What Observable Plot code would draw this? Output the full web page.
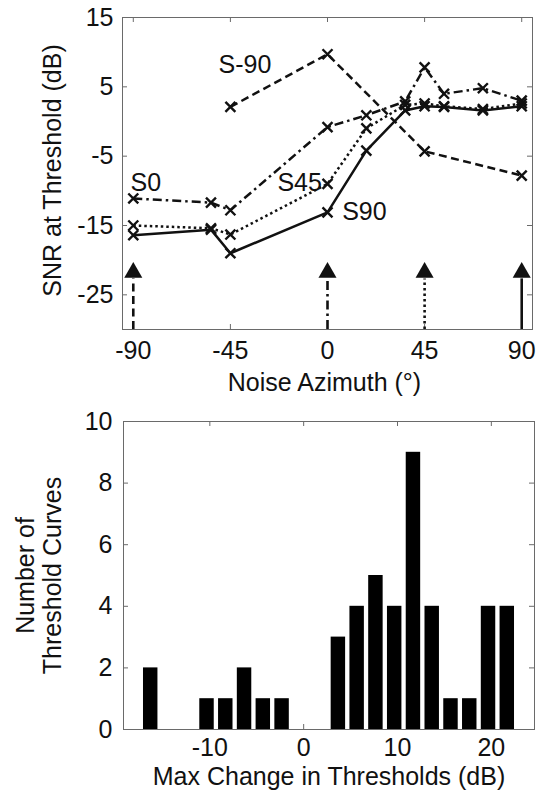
<!DOCTYPE html>
<html>
<head>
<meta charset="utf-8">
<script src="https://cdn.jsdelivr.net/npm/d3@7"></script>
<script src="https://cdn.jsdelivr.net/npm/@observablehq/plot@0.6"></script>
<style>
  html, body { margin: 0; padding: 0; background: #fff; }
  #chart { width: 536px; }
  #chart svg { display: block; }
</style>
</head>
<body>
<div id="chart"></div>
<script>
// ---- Top panel: SNR at threshold vs noise azimuth, one curve per signal azimuth ----
const noiseAzimuths = [-90, -54, -45, 0, 18, 36, 45, 54, 72, 90];
const snrS0  = [-11.1, -11.7, -12.8, -0.8, 0.9, 2.9, 7.8, 4.0, 4.8, 3.0];
const snrS45 = [-15.0, -15.4, -16.3, -9.0, -1.0, 2.4, 2.6, 2.2, 1.8, 2.6];
const snrS90 = [-16.4, -15.6, -19.0, -13.1, -4.2, 1.6, 2.2, 2.1, 1.6, 2.2];
const noiseAzimuthsSm90 = [-45, 0, 45, 90];
const snrSm90 = [2.1, 9.7, -4.3, -7.8];

const seriesNames = ["S-90", "S0", "S45", "S90"];
const signalAzimuths = [-90, 0, 45, 90];
const dashPatterns = ["8,4.5", "9,4,2.5,4", "2.5,3", null];
// where each curve's name is written (noise azimuth, dB)
const labelAz  = [-50.5, -91.3, -23.2, 6.8];
const labelSnr = [8.1, -8.8, -8.8, -13.1];

const azTicks = [-90, -45, 0, 45, 90];
const snrTicks = [-25, -15, -5, 5, 15];
const arrowTip = -20.7;   // dB, apex of the signal-direction arrows
const arrowBase = -22.7;  // dB, base of the arrow heads

// ---- Bottom panel: histogram of the maximum threshold change ----
const binCenters = [-16.3, -10.3, -8.3, -6.3, -4.3, -2.3, 3.7, 5.7, 7.7, 9.7, 11.7, 13.7, 15.7, 17.7, 19.7, 21.7];
const binCounts  = [2, 1, 1, 2, 1, 1, 3, 4, 5, 4, 9, 4, 1, 1, 4, 4];
const changeTicks = [-10, 0, 10, 20];
const countTicks = [0, 2, 4, 6, 8, 10];

const FONT = "'Liberation Sans', Arial, Helvetica, sans-serif";
const FS = 25;
const INK = "#111";
const FRAME = "#6a6a6a";
const fmt = d => String(d);

const xValues = [noiseAzimuthsSm90, noiseAzimuths, noiseAzimuths, noiseAzimuths];
const yValues = [snrSm90, snrS0, snrS45, snrS90];
const curves = seriesNames.map((name, i) => ({
  name,
  dash: dashPatterns[i],
  signal: signalAzimuths[i],
  points: xValues[i].map((az, j) => ({az, snr: yValues[i][j]})),
  label: {az: labelAz[i], snr: labelSnr[i], name}
}));

// MATLAB-style inward ticks on all four sides, built from rules inset to 5px
function boxTicks(xt, yt, frameW, frameH, len = 5) {
  const o = {stroke: FRAME, strokeWidth: 1};
  return [
    Plot.ruleX(xt, {...o, insetTop: frameH - len}),
    Plot.ruleX(xt, {...o, insetBottom: frameH - len}),
    Plot.ruleY(yt, {...o, insetRight: frameW - len}),
    Plot.ruleY(yt, {...o, insetLeft: frameW - len})
  ];
}

// ---------- top panel ----------
{
  const W = 536, H = 400, mT = 17, mB = 71, mL = 122, mR = 4;
  const fw = W - mL - mR, fh = H - mT - mB;
  const marks = [
    ...boxTicks(azTicks, snrTicks, fw, fh),
    Plot.frame({stroke: FRAME, strokeWidth: 1})
  ];
  for (const c of curves) {
    marks.push(Plot.line(c.points, {
      x: "az", y: "snr", stroke: INK, strokeWidth: 2.5,
      strokeDasharray: c.dash, strokeLinecap: "butt"
    }));
    marks.push(Plot.dot(c.points, {
      x: "az", y: "snr", symbol: "times", r: 4.6, stroke: INK, strokeWidth: 2.4
    }));
    marks.push(Plot.ruleX([c.signal], {
      y1: -30, y2: arrowBase, stroke: INK, strokeWidth: 2.6, strokeDasharray: c.dash
    }));
    marks.push(Plot.dot([c.signal], {
      x: d => d, y: () => (2 * arrowBase + arrowTip) / 3 + 0.25,
      symbol: "triangle", r: 6.7, fill: INK, stroke: "none"
    }));
    marks.push(Plot.text([c.label], {
      x: "az", y: "snr", text: "name", textAnchor: "start",
      fontSize: FS, fill: INK
    }));
  }
  marks.push(
    Plot.axisX(azTicks, {tickSize: 0, tickPadding: 12, tickFormat: fmt, fontSize: FS, fill: INK, label: null}),
    Plot.axisY(snrTicks, {tickSize: 0, tickPadding: 9, tickFormat: fmt, fontSize: FS, fill: INK, label: null}),
    Plot.text(["Noise Azimuth (\u00B0)"], {
      frameAnchor: "bottom", lineAnchor: "middle", textAnchor: "middle",
      dx: -3, dy: 53, fontSize: FS, fill: INK
    }),
    Plot.text(["SNR at Threshold (dB)"], {
      frameAnchor: "left", lineAnchor: "middle", textAnchor: "middle",
      dx: -70, dy: -3, rotate: -90, fontSize: FS, fill: INK
    })
  );
  const svg = Plot.plot({
    width: W, height: H,
    marginTop: mT, marginBottom: mB, marginLeft: mL, marginRight: mR,
    style: {fontFamily: FONT, background: "#fff", overflow: "visible"},
    x: {domain: [-95, 95], axis: null},
    y: {domain: [-30, 15], axis: null},
    marks
  });
  document.getElementById("chart").append(svg);
}

// ---------- bottom panel ----------
{
  const W = 536, H = 398, mT = 21, mB = 69, mL = 123, mR = 2;
  const fw = W - mL - mR, fh = H - mT - mB;
  const bins = binCenters.map((c, i) => ({c, n: binCounts[i]}));
  const half = 0.77;
  const svg = Plot.plot({
    width: W, height: H,
    marginTop: mT, marginBottom: mB, marginLeft: mL, marginRight: mR,
    style: {fontFamily: FONT, background: "#fff", overflow: "visible"},
    x: {domain: [-19.2, 24.6], axis: null},
    y: {domain: [0, 10], axis: null},
    marks: [
      ...boxTicks(changeTicks, countTicks, fw, fh),
      Plot.rectY(bins, {x1: d => d.c - half, x2: d => d.c + half, y: "n", fill: "#000"}),
      Plot.frame({stroke: FRAME, strokeWidth: 1}),
      Plot.axisX(changeTicks, {tickSize: 0, tickPadding: 9, tickFormat: fmt, fontSize: FS, fill: INK, label: null}),
      Plot.axisY(countTicks, {tickSize: 0, tickPadding: 11, tickFormat: fmt, fontSize: FS, fill: INK, label: null}),
      Plot.text(["Max Change in Thresholds (dB)"], {
        frameAnchor: "bottom", lineAnchor: "middle", textAnchor: "middle",
        dy: 47, fontSize: FS, fill: INK
      }),
      Plot.text(["Number of\nThreshold Curves"], {
        frameAnchor: "left", lineAnchor: "middle", textAnchor: "middle",
        dx: -85, rotate: -90, lineHeight: 1.1, fontSize: FS, fill: INK
      })
    ]
  });
  document.getElementById("chart").append(svg);
}
</script>
</body>
</html>
